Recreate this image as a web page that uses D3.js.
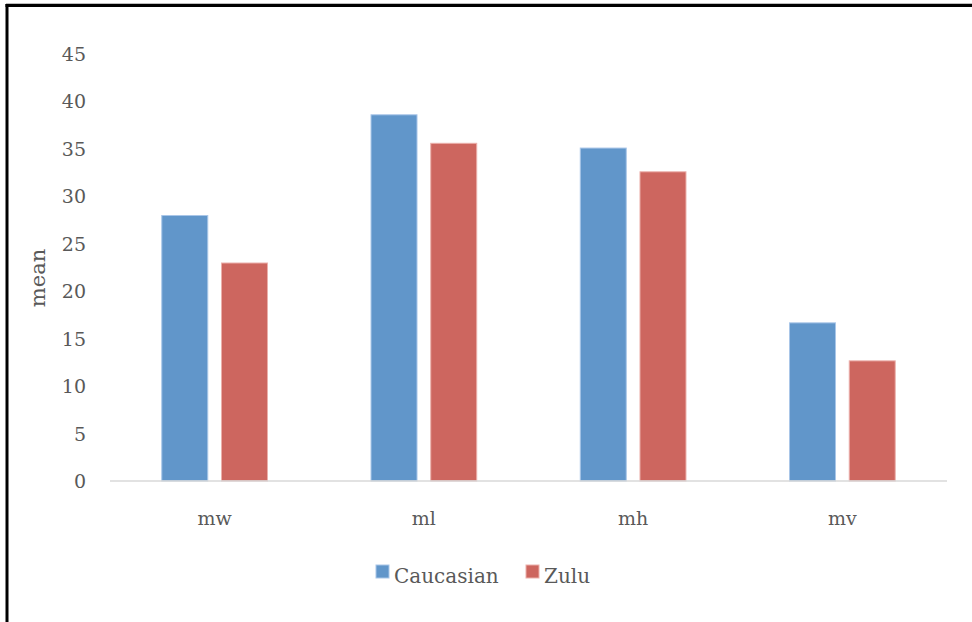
<!DOCTYPE html>
<html>
<head>
<meta charset="utf-8">
<script src="https://cdn.jsdelivr.net/npm/d3@7"></script>
<style>
  html, body { margin: 0; padding: 0; background: #ffffff; }
  svg { display: block; }
  text { font-family: "DejaVu Serif", "Liberation Serif", serif; fill: #595959; }
</style>
</head>
<body>
<svg id="chart" width="972" height="622"></svg>
<script>
// Mean measurements per group
const categories = ["mw", "ml", "mh", "mv"];
const seriesNames = ["Caucasian", "Zulu"];
const caucasian = [28.0, 38.6, 35.1, 16.7];
const zulu = [23.0, 35.6, 32.6, 12.7];
const yTicks = [0, 5, 10, 15, 20, 25, 30, 35, 40, 45];
const colors = ["#6196CA", "#CD665F"];
const strokes = ["#A9C6E8", "#EBB0AB"];

const seriesValues = [caucasian, zulu];
const rows = categories.map((c, i) => ({
  category: c,
  values: seriesNames.map((s, j) => ({ series: s, value: seriesValues[j][i], idx: j }))
}));

const svg = d3.select("#chart");

// Frame around the chart area
svg.append("line").attr("x1", 6).attr("x2", 972).attr("y1", 3.5).attr("y2", 3.5)
  .attr("stroke", "#bdbdbd").attr("stroke-width", 1);
svg.append("line").attr("x1", 5.5).attr("x2", 972).attr("y1", 5.5).attr("y2", 5.5)
  .attr("stroke", "#000").attr("stroke-width", 3);
svg.append("line").attr("x1", 7).attr("x2", 7).attr("y1", 4).attr("y2", 622)
  .attr("stroke", "#000").attr("stroke-width", 3);

const plotLeft = 110, plotRight = 947;
const y = d3.scaleLinear().domain([0, 45]).range([481, 53.5]);

const x0 = d3.scaleBand().domain(categories).range([plotLeft, plotRight])
  .paddingInner(0.49).paddingOuter(0.245);
const x1 = d3.scaleBand().domain(seriesNames).range([0, x0.bandwidth()])
  .paddingInner(0.213);

// Y axis labels (no axis line, no gridlines)
const yAxis = d3.axisLeft(y).tickValues(yTicks).tickSize(0).tickPadding(0);
const yG = svg.append("g").attr("transform", "translate(86,0)").call(yAxis);
yG.select(".domain").remove();
yG.selectAll("text").style("font-size", "19px").attr("fill", "#595959")
  .style("font-family", "'DejaVu Serif', serif").attr("dy", "0.35em");

// Bars
const groups = svg.append("g").selectAll("g").data(rows).join("g")
  .attr("transform", d => `translate(${x0(d.category)},0)`);
groups.selectAll("rect").data(d => d.values).join("rect")
  .attr("x", d => x1(d.series) + 0.5)
  .attr("y", d => y(d.value) + 0.5)
  .attr("width", x1.bandwidth() - 1)
  .attr("height", d => y(0) - y(d.value) - 0.5)
  .attr("fill", d => colors[d.idx])
  .attr("stroke", d => strokes[d.idx])
  .attr("stroke-width", 1);

// Category axis
const xAxis = d3.axisBottom(x0).tickSize(0).tickPadding(0);
const xG = svg.append("g").attr("transform", `translate(0,${y(0)})`).call(xAxis);
xG.select(".domain").attr("stroke", "#d9d9d9").attr("stroke-width", 1.5)
  .attr("d", `M${plotLeft},0H${plotRight}`);
xG.selectAll("text").style("font-size", "19px").attr("fill", "#595959")
  .style("font-family", "'DejaVu Serif', serif").attr("dy", "0").attr("y", 44);

// Y axis title
svg.append("text")
  .attr("transform", "translate(45,278) rotate(-90)")
  .attr("text-anchor", "middle")
  .style("font-size", "21px")
  .text("mean");

// Legend
const legend = svg.append("g");
const legendX = [376, 526];
seriesNames.forEach((s, i) => {
  legend.append("rect").attr("x", legendX[i]).attr("y", 565).attr("width", 13).attr("height", 13)
    .attr("fill", colors[i]).attr("stroke", strokes[i]).attr("stroke-width", 1);
  legend.append("text").attr("x", legendX[i] + 18).attr("y", 583)
    .style("font-size", "20px").text(s);
});
</script>
</body>
</html>
